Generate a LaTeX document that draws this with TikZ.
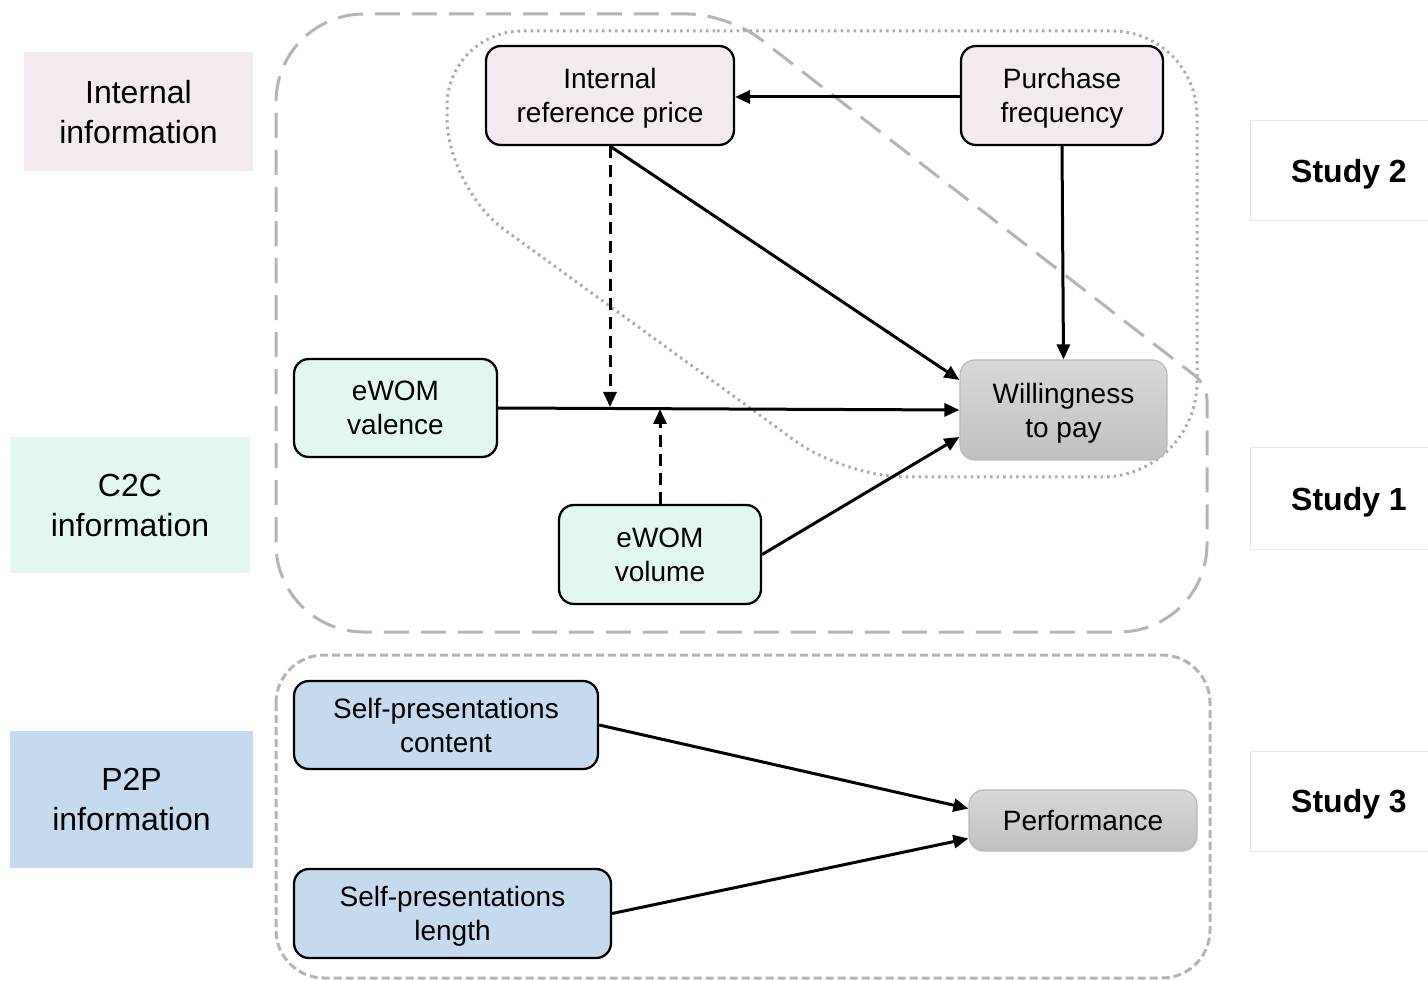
\documentclass[tikz,border=0pt]{standalone}
\usepackage{fontspec}
\setmainfont{Liberation Sans}
\usetikzlibrary{arrows.meta}

\definecolor{pinkfill}{HTML}{F2E9F1}
\definecolor{mintfill}{HTML}{E2F8EE}
\definecolor{bluefill}{HTML}{C5DAEE}
\definecolor{framegray}{HTML}{B4B4B4}
\definecolor{dotgray}{HTML}{ABABAB}
\definecolor{outgray}{HTML}{B9B9B9}

\tikzset{
  % texts are centred from the top of the first line to the last baseline
  var/.style={draw=black, line width=2.3pt, rounded corners=15pt, align=center,
    font=\fontsize{28}{34}\selectfont, inner sep=0pt, text depth=0pt},
  outcome/.style={draw=outgray, line width=1.2pt, rounded corners=15pt, align=center,
    top color=gray!30, bottom color=gray!50, font=\fontsize{28}{34}\selectfont,
    inner sep=0pt, text depth=0pt},
  category/.style={align=center, inner sep=0pt, text depth=0pt, font=\fontsize{32}{40}\selectfont},
  studylabel/.style={inner sep=0pt, text depth=0pt, font=\fontsize{32}{38}\selectfont\bfseries},
  link/.style={line width=3pt, -{Triangle[length=15pt,width=13pt]}},
  modlink/.style={link, dash pattern=on 12pt off 7pt},
  longdash/.style={draw=framegray, line width=3pt, dash pattern=on 25pt off 12pt},
  shortdash/.style={draw=framegray, line width=3pt, dash pattern=on 8pt off 4pt},
  dotline/.style={draw=dotgray, line width=3pt, dash pattern=on 2.5pt off 4pt},
}

\begin{document}
\begin{tikzpicture}[x=1pt, y=-1pt]
\useasboundingbox (0,0) rectangle (1428,981);
\clip (0,0) rectangle (1428,981);
\fill[white] (0,0) rectangle (1428,981);

% category labels on the left
\fill[pinkfill] (24,52) rectangle (253,171);
\node[category] (catint) at (138.5,111.5) {Internal\\information};
\fill[mintfill] (10,437) rectangle (250,573);
\node[category] (catc2c) at (130,505) {C2C\\information};
\fill[bluefill] (10,731) rectangle (253,868);
\node[category] (catp2p) at (131.5,799.5) {P2P\\information};

% study labels on the right
\draw[gray!18, line width=1pt, fill=white] (1250,121) rectangle (1440,221);
\node[studylabel] (s2) at (1349,171) {Study 2};
\draw[gray!18, line width=1pt, fill=white] (1250,448) rectangle (1440,549);
\node[studylabel] (s1) at (1349,498.5) {Study 1};
\draw[gray!18, line width=1pt, fill=white] (1250,751) rectangle (1440,851);
\node[studylabel] (s3) at (1349,801) {Study 3};

% study 1 frame
\draw[longdash] (276,300) [rounded corners=88pt] -- (276,14)
  [rounded corners=40pt] -- (728,14)
  [rounded corners=15pt] -- (1207,385)
  [rounded corners=88pt] -- (1207,632) -- (276,632) -- cycle;

% study 2 frame
\draw[dotline] (800,31) [rounded corners=75pt] -- (447,31)
  [rounded corners=70pt] -- (447,188)
  [rounded corners=60pt] -- (845,477)
  [rounded corners=95pt] -- (1197,477)
  [rounded corners=85pt] -- (1197,31) -- cycle;

% study 3 frame
\draw[shortdash, rounded corners=48pt] (276,655) rectangle (1210,978);

% variables
\node[var, fill=pinkfill, minimum width=248pt, minimum height=99pt] (irp) at (610,95.5) {Internal\\reference price};
\node[var, fill=pinkfill, minimum width=202pt, minimum height=99pt] (pf) at (1062,95.5) {Purchase\\frequency};
\node[var, fill=mintfill, minimum width=203pt, minimum height=98pt] (val) at (395.5,408) {eWOM\\valence};
\node[var, fill=mintfill, minimum width=202pt, minimum height=99pt] (vol) at (660,554.5) {eWOM\\volume};
\node[outcome, minimum width=207pt, minimum height=100pt] (wtp) at (1063.5,410) {Willingness\\to pay};
\node[var, fill=bluefill, minimum width=304pt, minimum height=88pt] (spc) at (446,725) {Self-presentations\\content};
\node[var, fill=bluefill, minimum width=317pt, minimum height=89pt] (spl) at (452.5,913.5) {Self-presentations\\length};
\node[outcome, minimum width=228pt, minimum height=61pt] (perf) at (1083,820.5) {Performance};

% moderation points on the valence path
\coordinate (m1) at (610,407);
\coordinate (m2) at (660,409);

% connectors
\draw[link] ([yshift=-1.5pt]pf.west) -- ([yshift=-1.5pt]irp.east);
\draw[link] (irp.south) -- ([yshift=30pt]wtp.west);
\draw[link] (pf.south) -- (wtp.north);
\draw[link] (val.east) -- (wtp.west);
\draw[link] (vol.east) -- ([yshift=-27pt]wtp.west);
\draw[modlink] (irp.south) -- (m1);
\draw[modlink] (vol.north) -- (m2);
\draw[link] (spc.east) -- ([yshift=12pt]perf.west);
\draw[link] (spl.east) -- ([yshift=-18pt]perf.west);
\end{tikzpicture}
\end{document}
